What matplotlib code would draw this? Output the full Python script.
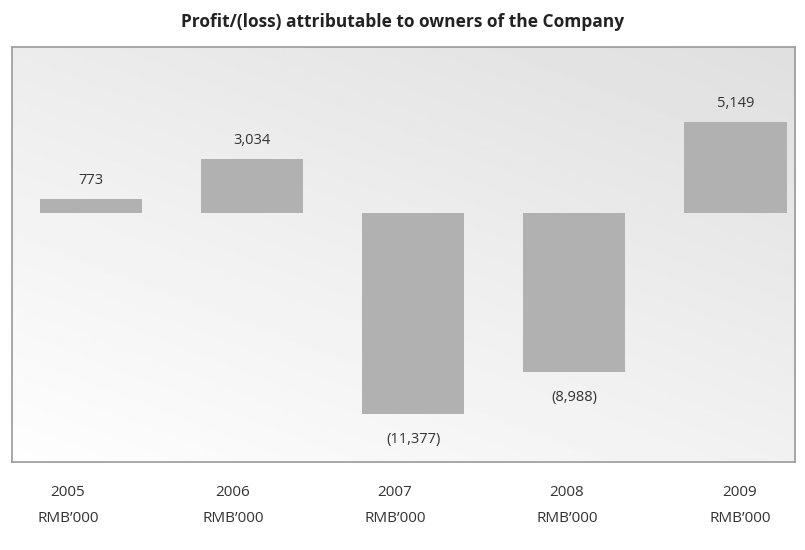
import numpy as np
import matplotlib
matplotlib.use("Agg")
import matplotlib.pyplot as plt

years = ["2005", "2006", "2007", "2008", "2009"]
unit = "RMB\u2019000"
profit = [773, 3034, -11377, -8988, 5149]
value_labels = ["773", "3,034", "(11,377)", "(8,988)", "5,149"]

plt.rcParams['font.family'] = ['Open Sans', 'DejaVu Sans']

fig = plt.figure(figsize=(8.05, 5.5), dpi=100)
ax = fig.add_axes([0.0149, 0.16, 0.9727, 0.7545])

# diagonal gray gradient: darker top right, near white bottom left
gx, gy = np.meshgrid(np.linspace(0, 1, 200), np.linspace(0, 1, 200))
grad = 0.925 - 0.05 * gx + 0.07 * gy
grad = np.clip(grad, 0, 1)
ax.imshow(grad, cmap="gray", vmin=0, vmax=1, extent=[0, 1, 0, 1], origin="upper",
          transform=ax.transAxes, aspect="auto", zorder=0)

x = np.arange(len(years))
bars = ax.bar(x, profit, width=0.635, color="#b1b1b1", zorder=2)

for xi, v, lab in zip(x, profit, value_labels):
    if v >= 0:
        ax.annotate(lab, (xi, v), xytext=(0, 8), textcoords="offset points",
                    ha="center", va="bottom", fontsize=10.5, color="#333333")
    else:
        ax.annotate(lab, (xi, v), xytext=(0, -13), textcoords="offset points",
                    ha="center", va="top", fontsize=10.5, color="#333333")

ax.set_xlim(-0.49, 4.37)
ax.set_ylim(-14100, 9400)
ax.set_xticks([])
ax.set_yticks([])
for s in ax.spines.values():
    s.set_color("#9a9a9a")
    s.set_linewidth(1.2)

# category labels under the frame
label_x = [68, 233, 395, 567, 740]
for lx, yr in zip(label_x, years):
    fig.text(lx / 805, 1 - 493 / 550, yr, ha="center", va="center",
             fontsize=11, color="#333333")
    fig.text(lx / 805, 1 - 519 / 550, unit, ha="center", va="center",
             fontsize=11, color="#333333")

fig.text(0.5, 1 - 22 / 550, "Profit/(loss) attributable to owners of the Company",
         ha="center", va="center", fontsize=12.5, fontweight="bold", color="#222222")

fig.savefig("out.png", dpi=100)
